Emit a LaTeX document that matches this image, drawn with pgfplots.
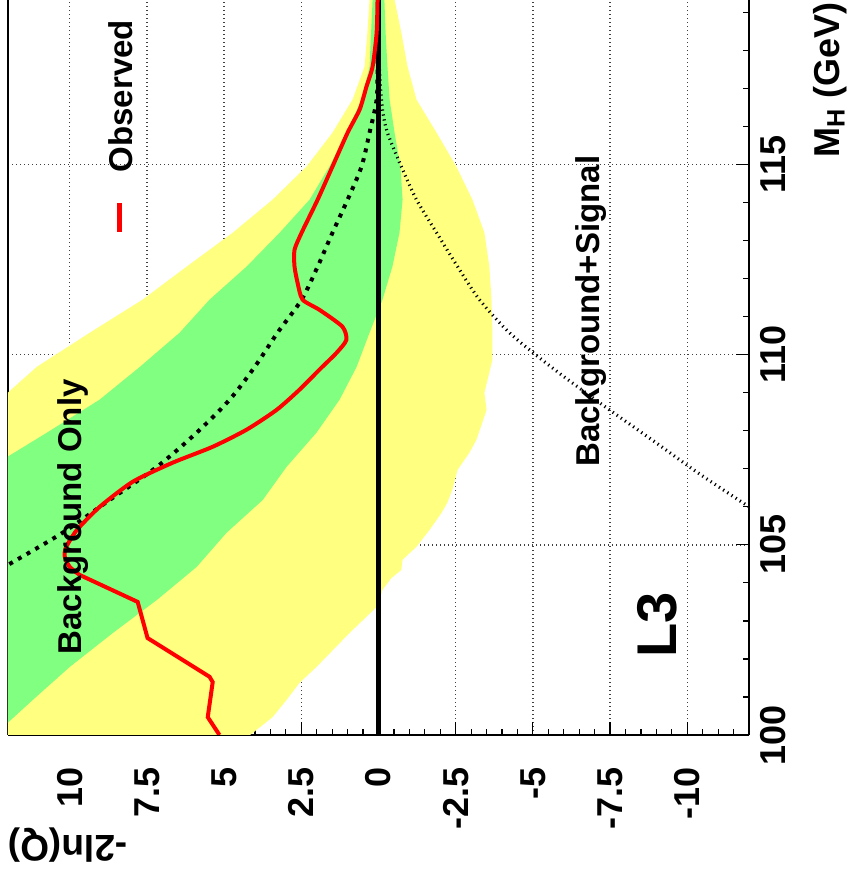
\documentclass[border=0pt]{standalone}
\usepackage{fontspec}
\setmainfont{Liberation Sans}
\usepackage{pgfplots}
\pgfplotsset{compat=1.18}
\definecolor{bandtwo}{RGB}{255,255,128}
\definecolor{bandone}{RGB}{128,255,128}
\begin{document}
\begin{tikzpicture}
\begin{axis}[
  scale only axis, width=370.5pt, height=367.5pt,
  xmin=-12, xmax=12, ymin=100, ymax=119.33,
  x dir=reverse,
  axis x line*=bottom,
  ytick pos=right, yticklabel pos=right,
  xtick={-10,-7.5,-5,-2.5,0,2.5,5,7.5,10},
  xticklabels={-10,-7.5,-5,-2.5,0,2.5,5,7.5,10},
  minor xtick={-12,-11.5,...,12},
  ytick={100,105,110,115}, yticklabels={100,105,110,115},
  minor ytick={101,102,...,119},
  major tick length=6.5pt, minor tick length=3.2pt,
  tick style={black, line width=0.6pt},
  tick align=inside,
  grid=major,
  major grid style={black!75, line width=0.7pt, dash pattern=on 0.7pt off 1.3pt},
  axis line style={black, line width=0.9pt},
  xticklabel style={rotate=90, anchor=east, inner sep=0pt, font=\fontsize{18}{20}\selectfont\bfseries},
  xticklabel shift=16pt,
  yticklabel style={rotate=90, anchor=north, inner sep=0pt, font=\fontsize{18}{20}\selectfont\bfseries},
  yticklabel shift=5.5pt,
  clip mode=individual,
]
% 2 sigma band
\addplot[fill=bandtwo, draw=none] coordinates {
(0.30,119.6) (0.29,119.34) (0.36,118.47) (0.45,117.58) (0.84,116.71) (1.49,115.84)
(2.33,114.95) (3.43,114.08) (4.72,113.21) (6.21,112.32) (7.64,111.45) (9.35,110.58)
(11.07,109.68) (12.01,109.0) (13,108.7) (13,99) (4.5,99.8) (4.08,100.05) (3.43,100.47)
(2.98,100.92) (2.56,101.37) (2.01,101.79) (0.94,102.68) (0.06,103.37) (-0.03,103.55)
(-0.13,103.82) (-0.42,104.13) (-0.74,104.34) (-0.78,104.61) (-1.23,104.95) (-1.65,105.39)
(-2.04,105.84) (-2.23,106.11) (-2.39,106.45) (-2.56,106.97) (-2.94,107.42) (-3.17,107.76)
(-3.50,108.55) (-3.43,109.0) (-3.69,109.87) (-3.69,110.58) (-3.66,111.45) (-3.59,112.32)
(-3.43,113.21) (-3.04,114.08) (-2.52,114.95) (-1.88,115.84) (-1.23,116.71) (-0.94,117.58)
(-0.74,118.47) (-0.52,119.34) (-0.50,119.6)
} -- cycle;
% 1 sigma band
\addplot[fill=bandone, draw=none] coordinates {
(0.19,119.6) (0.19,119.34) (0.29,117.58) (0.55,116.71) (1.04,115.84) (1.59,114.95)
(2.23,114.08) (3.20,113.21) (4.27,112.32) (5.47,111.45) (6.44,110.58) (7.73,109.68)
(9.03,108.82) (10.74,107.95) (12.01,107.32) (13,107.0) (13,100.1) (12.01,100.32)
(11.2,100.92) (10.0,101.79) (8.61,102.68) (7.18,103.55) (5.89,104.42) (4.92,105.32)
(3.75,106.18) (2.98,107.05) (2.01,107.95) (1.26,108.82) (0.71,109.68) (0.29,110.58)
(-0.13,111.45) (-0.45,112.32) (-0.68,113.21) (-0.78,114.08) (-0.71,114.95) (-0.52,115.84)
(-0.36,116.71) (-0.29,117.58) (-0.23,118.47) (-0.19,119.34) (-0.19,119.6)
} -- cycle;
% background only expectation
\addplot[black, line width=2pt, dash pattern=on 2pt off 3pt, smooth] coordinates {
(0.0,119.34) (0.01,118.5) (0.03,117.58) (0.06,116.71) (0.29,115.84) (0.55,114.95)
(1.0,114.08) (1.49,113.21) (1.97,112.32) (2.49,111.45) (3.27,110.58) (4.01,109.68)
(4.82,108.82) (5.89,107.95) (7.18,107.05) (8.71,106.18) (10.23,105.32) (11.88,104.53)
(12.6,104.2)
};
% background + signal expectation
\addplot[black, line width=1.6pt, dash pattern=on 0.6pt off 1.9pt, smooth] coordinates {
(0.0,119.34) (-0.01,118.0) (-0.05,117.2) (-0.13,116.45) (-0.29,115.84) (-0.74,114.95)
(-1.23,114.08) (-1.88,113.21) (-2.56,112.32) (-3.27,111.45) (-4.24,110.58) (-5.37,109.82)
(-6.41,109.18) (-7.57,108.50) (-9.00,107.68) (-10.39,106.87) (-11.91,106.05) (-12.6,105.7)
};
% zero line
\addplot[black, line width=2.4pt] coordinates {(0,100) (0,119.4)};
% observed
\addplot[red, line width=2pt, smooth, tension=0.4] coordinates {
(0.03,119.4) (0.06,118.47) (0.19,117.58) (0.39,117.05) (0.61,116.45) (1.0,115.84)
(1.49,114.95) (1.97,114.08) (2.49,113.21) (2.72,112.76) (2.72,112.32) (2.62,111.89)
(2.46,111.45) (1.91,111.18) (1.17,110.74) (1.04,110.39) (1.36,110.05) (1.91,109.61)
(2.56,109.08) (3.30,108.55) (4.27,108.03) (5.37,107.58) (6.67,107.16) (7.96,106.66)
(9.03,106.0) (9.77,105.39) (10.13,104.92) (10.16,104.68) (10.0,104.42) (9.68,104.21)
};
\addplot[red, line width=2pt] coordinates {
(9.68,104.21) (7.80,103.50) (7.48,102.55) (5.47,101.53) (5.37,101.39) (5.53,100.47) (5.15,100.0)
};
% legend line
\addplot[red, line width=2.6pt] coordinates {(8.38,113.24) (8.38,114.0)};
\node[rotate=90, anchor=base west, inner sep=0pt, font=\fontsize{16.5}{18}\selectfont\bfseries] at (axis cs:7.96,114.79) {Observed};
\node[rotate=90, anchor=base west, inner sep=0pt, font=\fontsize{16.5}{18}\selectfont\bfseries] at (axis cs:9.61,102.11) {Background Only};
\node[rotate=90, anchor=base west, inner sep=0pt, font=\fontsize{16.5}{18}\selectfont\bfseries] at (axis cs:-7.15,107.05) {Background+Signal};
\node[rotate=90, anchor=base west, inner sep=0pt, font=\fontsize{28}{30}\selectfont\bfseries] at (axis cs:-9.64,102.03) {L3};
\node[rotate=180, anchor=base west, inner sep=0pt, font=\fontsize{18.5}{20}\selectfont\bfseries] at (axis cs:8.12,97.37) {-2ln(Q)};
\node[rotate=90, anchor=base east, inner sep=0pt, font=\fontsize{18}{20}\selectfont\bfseries] at (axis cs:-14.92,119.27) {M\textsubscript{H} (GeV)};
\coordinate (BL) at (axis cs:12,100);
\coordinate (TR) at (axis cs:-12,119.33);
\end{axis}
\pgfresetboundingbox
\path ([shift={(-4pt,-75.5pt)}]BL) rectangle ([shift={(51pt,0pt)}]TR);
\end{tikzpicture}
\end{document}
